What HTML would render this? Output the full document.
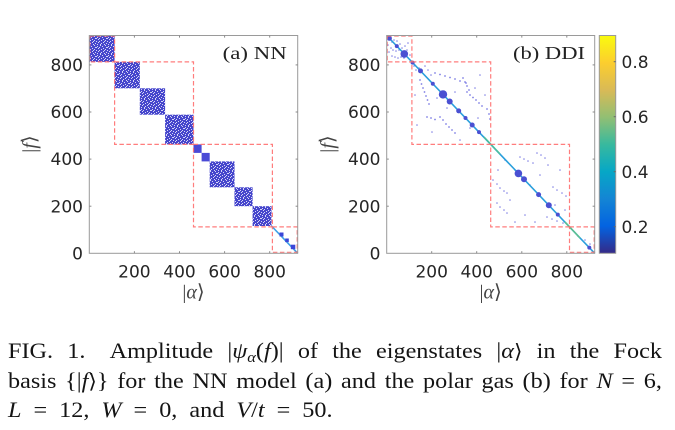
<!DOCTYPE html>
<html><head><meta charset="utf-8">
<style>
html,body{margin:0;padding:0;background:#fff;}
body{width:675px;height:430px;position:relative;overflow:hidden;}
svg{position:absolute;left:0;top:0;}
.cap{position:absolute;left:8px;top:336px;width:594.5px;font-family:"Liberation Serif","DejaVu Serif",serif;font-size:22px;line-height:29.5px;color:#141414;transform:scaleX(1.1);transform-origin:0 0;}
.j{text-align:justify;text-align-last:justify;height:29.5px;white-space:normal;}
.sub{font-size:0.68em;position:relative;top:0.3em;line-height:0;}
.br{font-family:"DejaVu Serif","DejaVu Sans",serif;font-size:0.9em;}
</style></head>
<body>
<svg width="675" height="330" viewBox="0 0 675 330" xmlns="http://www.w3.org/2000/svg">
<defs>
<pattern id="sp" width="11" height="9" patternUnits="userSpaceOnUse">
<rect width="11" height="9" fill="#4646cc"/>
<g fill="#d6d6f6">
<rect x="1" y="0" width="1" height="1"/><rect x="6" y="0" width="1" height="1"/><rect x="9" y="1" width="1" height="1"/>
<rect x="3" y="1" width="1" height="1"/><rect x="7" y="2" width="2" height="1"/>
<rect x="0" y="2" width="1" height="1"/><rect x="4" y="3" width="1" height="1"/>
<rect x="10" y="3" width="1" height="1"/><rect x="2" y="4" width="1" height="1"/>
<rect x="6" y="4" width="1" height="1"/><rect x="8" y="5" width="1" height="1"/>
<rect x="0" y="5" width="1" height="1"/><rect x="4" y="6" width="1" height="1"/>
<rect x="10" y="6" width="1" height="1"/><rect x="2" y="7" width="1" height="1"/>
<rect x="7" y="7" width="1" height="1"/><rect x="5" y="8" width="1" height="1"/>
<rect x="9" y="8" width="1" height="1"/><rect x="1" y="8" width="1" height="1"/>
<rect x="5" y="5" width="1" height="1"/>
</g>
</pattern>
<linearGradient id="par" x1="0" y1="1" x2="0" y2="0">
<stop offset="0" stop-color="#352a87"/>
<stop offset="0.125" stop-color="#0363e1"/>
<stop offset="0.25" stop-color="#1485d4"/>
<stop offset="0.375" stop-color="#06a7c6"/>
<stop offset="0.5" stop-color="#38b99e"/>
<stop offset="0.625" stop-color="#92bf73"/>
<stop offset="0.75" stop-color="#d9ba56"/>
<stop offset="0.875" stop-color="#fcce2e"/>
<stop offset="1" stop-color="#f9fb0e"/>
</linearGradient>
</defs>

<!-- ================= Panel (a) ================= -->
<g>
<rect x="89.3" y="35.5" width="208.4" height="217.8" fill="#fff"/>
<g fill="url(#sp)">
<rect x="89.3" y="35.5" width="25.3" height="26.4"/>
<rect x="114.6" y="61.9" width="25.2" height="26.4"/>
<rect x="139.8" y="88.3" width="25.3" height="26.4"/>
<rect x="165.1" y="114.7" width="28.4" height="29.7"/>
<rect x="209.7" y="161.4" width="24.8" height="25.9"/>
<rect x="234.5" y="187.3" width="18.1" height="18.9"/>
<rect x="252.6" y="206.2" width="18.9" height="19.8"/>
</g>
<g fill="#4a4ad6">
<rect x="193.5" y="144.4" width="8.1" height="8.5"/>
<rect x="201.6" y="152.9" width="8.1" height="8.5"/>
</g>
<line x1="271.5" y1="226" x2="297.7" y2="253.3" stroke="#3d9fe6" stroke-width="1.6"/>
<g fill="#3a46d8">
<rect x="279.5" y="232.5" width="4" height="4"/>
<rect x="285.2" y="238.5" width="3.6" height="3.6"/>
<rect x="290.8" y="244.7" width="4.5" height="4.5"/>
</g>
<g fill="none" stroke="#ff6f6f" stroke-width="1.2" stroke-dasharray="4.5 2.5" opacity="0.9">
<rect x="89.8" y="36" width="24.8" height="25.9"/>
<rect x="114.6" y="61.9" width="78.9" height="82.5"/>
<rect x="193.5" y="144.4" width="78.9" height="82.5"/>
<rect x="272.4" y="226.9" width="24.8" height="25.4"/>
</g>
<rect x="89.3" y="35.5" width="208.4" height="217.8" fill="none" stroke="#9a9a9a" stroke-width="1"/>
<g stroke="#8a8a8a" stroke-width="1">
<line x1="134.4" y1="253.3" x2="134.4" y2="251.2"/><line x1="179.5" y1="253.3" x2="179.5" y2="251.2"/>
<line x1="224.6" y1="253.3" x2="224.6" y2="251.2"/><line x1="269.7" y1="253.3" x2="269.7" y2="251.2"/>
<line x1="134.4" y1="35.5" x2="134.4" y2="37.6"/><line x1="179.5" y1="35.5" x2="179.5" y2="37.6"/>
<line x1="224.6" y1="35.5" x2="224.6" y2="37.6"/><line x1="269.7" y1="35.5" x2="269.7" y2="37.6"/>
<line x1="89.3" y1="206.2" x2="91.4" y2="206.2"/><line x1="89.3" y1="159.1" x2="91.4" y2="159.1"/>
<line x1="89.3" y1="112" x2="91.4" y2="112"/><line x1="89.3" y1="64.9" x2="91.4" y2="64.9"/>
<line x1="297.7" y1="206.2" x2="295.6" y2="206.2"/><line x1="297.7" y1="159.1" x2="295.6" y2="159.1"/>
<line x1="297.7" y1="112" x2="295.6" y2="112"/><line x1="297.7" y1="64.9" x2="295.6" y2="64.9"/>
</g>
<text x="222.7" y="59" font-family="Liberation Serif, DejaVu Serif, serif" font-size="18" fill="#222" textLength="64" lengthAdjust="spacingAndGlyphs">(a) NN</text>
<g font-family="DejaVu Sans, Liberation Sans, sans-serif" font-size="17" fill="#262626">
<g text-anchor="end">
<text x="83" y="71">800</text>
<text x="83" y="118.1">600</text>
<text x="83" y="165.2">400</text>
<text x="83" y="212.3">200</text>
<text x="83" y="259.4">0</text>
</g>
<g text-anchor="middle">
<text x="134.4" y="277.3">200</text>
<text x="179.5" y="277.3">400</text>
<text x="224.6" y="277.3">600</text>
<text x="269.7" y="277.3">800</text>
</g>
</g>
<text x="193.5" y="298.5" text-anchor="middle" font-family="Liberation Serif, DejaVu Serif, serif" font-size="20" fill="#444">|<tspan font-style="italic">α</tspan><tspan font-family="DejaVu Serif, DejaVu Sans, serif">⟩</tspan></text>
<text transform="translate(36,144) rotate(-90)" text-anchor="middle" font-family="Liberation Serif, DejaVu Serif, serif" font-size="20" fill="#444">|<tspan font-style="italic">f</tspan><tspan font-family="DejaVu Serif, DejaVu Sans, serif">⟩</tspan></text>
</g>

<!-- ================= Panel (b) ================= -->
<g>
<g fill="#5656dc" opacity="0.75">
<circle cx="392" cy="42" r="0.8"/><circle cx="394" cy="40" r="0.8"/><circle cx="397" cy="41" r="0.8"/><circle cx="400" cy="44" r="0.8"/>
<circle cx="391" cy="48" r="0.8"/><circle cx="393" cy="50" r="0.8"/><circle cx="396" cy="51" r="0.8"/><circle cx="399" cy="50" r="0.8"/>
<circle cx="388" cy="45" r="0.8"/><circle cx="402" cy="48" r="0.8"/><circle cx="405" cy="46" r="0.8"/><circle cx="407" cy="50" r="0.8"/>
<circle cx="392" cy="56" r="0.8"/><circle cx="395" cy="57" r="0.8"/><circle cx="398" cy="58" r="0.8"/><circle cx="401" cy="57" r="0.8"/>
<circle cx="408" cy="43" r="0.8"/><circle cx="410" cy="55" r="0.8"/><circle cx="389" cy="52" r="0.8"/><circle cx="404" cy="58" r="0.8"/>
<circle cx="435" cy="73" r="0.9"/><circle cx="440" cy="74.5" r="0.9"/><circle cx="445" cy="76" r="0.9"/><circle cx="450" cy="77.5" r="0.9"/>
<circle cx="455" cy="79" r="0.9"/><circle cx="460" cy="81" r="0.9"/><circle cx="466" cy="83" r="0.9"/>
<circle cx="463" cy="78" r="0.9"/><circle cx="465" cy="82" r="0.9"/><circle cx="467" cy="86" r="0.9"/><circle cx="469" cy="90" r="0.9"/>
<circle cx="467" cy="92" r="0.9"/><circle cx="470" cy="95" r="0.9"/><circle cx="473" cy="97.5" r="0.9"/><circle cx="476" cy="100" r="0.9"/>
<circle cx="479" cy="103" r="0.9"/><circle cx="482" cy="106" r="0.9"/>
<circle cx="420" cy="80" r="0.9"/><circle cx="421.5" cy="84" r="0.9"/><circle cx="423" cy="88" r="0.9"/><circle cx="424.5" cy="92" r="0.9"/>
<circle cx="426" cy="96" r="0.9"/><circle cx="427.5" cy="100" r="0.9"/><circle cx="429" cy="104" r="0.9"/>
<circle cx="427" cy="117" r="0.9"/><circle cx="431" cy="118" r="0.9"/><circle cx="435" cy="119.5" r="0.9"/>
<circle cx="440" cy="117" r="0.9"/><circle cx="443" cy="120" r="0.9"/><circle cx="446" cy="124" r="0.9"/><circle cx="449" cy="127" r="0.9"/>
<circle cx="452" cy="130" r="0.9"/><circle cx="455" cy="133" r="0.9"/>
<circle cx="487" cy="109" r="0.9"/><circle cx="489" cy="114" r="0.9"/><circle cx="490" cy="119" r="0.9"/>
<circle cx="414" cy="66" r="0.8"/><circle cx="416" cy="70" r="0.8"/><circle cx="419" cy="68" r="0.8"/><circle cx="425" cy="66" r="0.8"/>
<circle cx="428" cy="70" r="0.8"/><circle cx="431" cy="75" r="0.8"/>
<circle cx="415" cy="95" r="0.8"/><circle cx="417" cy="125" r="0.8"/><circle cx="432" cy="132" r="0.8"/><circle cx="460" cy="140" r="0.8"/>
<circle cx="475" cy="88" r="0.8"/><circle cx="480" cy="75" r="0.8"/><circle cx="485" cy="95" r="0.8"/><circle cx="447" cy="108" r="0.8"/>
<circle cx="437" cy="98" r="0.8"/><circle cx="470" cy="128" r="0.8"/><circle cx="478" cy="118" r="0.8"/><circle cx="455" cy="92" r="0.8"/>
<circle cx="493" cy="180" r="0.8"/><circle cx="497" cy="184" r="0.8"/><circle cx="500" cy="188" r="0.8"/><circle cx="504" cy="191" r="0.8"/><circle cx="507" cy="193" r="0.8"/>
<circle cx="520" cy="157" r="0.8"/><circle cx="524" cy="159" r="0.8"/><circle cx="528" cy="161" r="0.8"/><circle cx="533" cy="163" r="0.8"/>
<circle cx="537" cy="153" r="0.8"/><circle cx="541" cy="155" r="0.8"/><circle cx="545" cy="158" r="0.8"/>
<circle cx="497" cy="203" r="0.8"/><circle cx="500" cy="207" r="0.8"/><circle cx="504" cy="210" r="0.8"/><circle cx="507" cy="213" r="0.8"/>
<circle cx="553" cy="187" r="0.8"/><circle cx="557" cy="190" r="0.8"/><circle cx="562" cy="193" r="0.8"/><circle cx="566" cy="196" r="0.8"/>
<circle cx="547" cy="217" r="0.8"/><circle cx="552" cy="219" r="0.8"/><circle cx="557" cy="221" r="0.8"/><circle cx="563" cy="223" r="0.8"/>
<circle cx="510" cy="200" r="0.8"/><circle cx="515" cy="170" r="0.8"/><circle cx="530" cy="185" r="0.8"/><circle cx="540" cy="175" r="0.8"/>
<circle cx="548" cy="165" r="0.8"/><circle cx="560" cy="170" r="0.8"/><circle cx="505" cy="160" r="0.8"/><circle cx="525" cy="215" r="0.8"/>
<circle cx="535" cy="222" r="0.8"/><circle cx="515" cy="222" r="0.8"/><circle cx="555" cy="205" r="0.8"/><circle cx="565" cy="210" r="0.8"/>
<circle cx="498" cy="170" r="0.8"/><circle cx="578" cy="236" r="0.8"/><circle cx="585" cy="240" r="0.8"/><circle cx="590" cy="244" r="0.8"/>
</g>
<line x1="386.7" y1="35.5" x2="594.7" y2="253.3" stroke="#2a9fdc" stroke-width="1.6"/>
<line x1="484" y1="137" x2="500" y2="154" stroke="#4cbf9a" stroke-width="1.6"/>
<line x1="565" y1="222" x2="580" y2="238" stroke="#5cc090" stroke-width="1.6"/>
<g fill="#4a50d2">
<circle cx="389.4" cy="38.3" r="2.5"/><circle cx="396.8" cy="46.1" r="2"/><circle cx="404.3" cy="53.9" r="3.8"/>
<circle cx="412.6" cy="62.6" r="2"/><circle cx="420.5" cy="70.9" r="2.5"/><circle cx="432.8" cy="83.8" r="2"/>
<circle cx="443" cy="94.4" r="4.2"/><circle cx="449.7" cy="101.5" r="3"/><circle cx="458.7" cy="110.9" r="2.5"/>
<circle cx="465.5" cy="118" r="2"/><circle cx="472.2" cy="125" r="2.5"/><circle cx="479" cy="132.1" r="2"/>
<circle cx="518.4" cy="173.4" r="3.8"/><circle cx="524" cy="179.3" r="3"/><circle cx="538.6" cy="194.6" r="2.5"/>
<circle cx="548.8" cy="205.2" r="3"/><circle cx="557.8" cy="214.6" r="2"/><circle cx="589.3" cy="247.6" r="2"/>
</g>
<g fill="none" stroke="#ff6f6f" stroke-width="1.2" stroke-dasharray="4.5 2.5" opacity="0.9">
<rect x="387.2" y="36" width="24.7" height="25.9"/>
<rect x="411.9" y="61.9" width="78.8" height="82.5"/>
<rect x="490.7" y="144.4" width="78.8" height="82.5"/>
<rect x="569.5" y="226.9" width="24.7" height="25.4"/>
</g>
<rect x="386.7" y="35.5" width="208" height="217.8" fill="none" stroke="#9a9a9a" stroke-width="1"/>
<g stroke="#8a8a8a" stroke-width="1">
<line x1="431.7" y1="253.3" x2="431.7" y2="251.2"/><line x1="476.7" y1="253.3" x2="476.7" y2="251.2"/>
<line x1="521.8" y1="253.3" x2="521.8" y2="251.2"/><line x1="566.8" y1="253.3" x2="566.8" y2="251.2"/>
<line x1="431.7" y1="35.5" x2="431.7" y2="37.6"/><line x1="476.7" y1="35.5" x2="476.7" y2="37.6"/>
<line x1="521.8" y1="35.5" x2="521.8" y2="37.6"/><line x1="566.8" y1="35.5" x2="566.8" y2="37.6"/>
<line x1="386.7" y1="206.2" x2="388.8" y2="206.2"/><line x1="386.7" y1="159.1" x2="388.8" y2="159.1"/>
<line x1="386.7" y1="112" x2="388.8" y2="112"/><line x1="386.7" y1="64.9" x2="388.8" y2="64.9"/>
<line x1="594.7" y1="206.2" x2="592.6" y2="206.2"/><line x1="594.7" y1="159.1" x2="592.6" y2="159.1"/>
<line x1="594.7" y1="112" x2="592.6" y2="112"/><line x1="594.7" y1="64.9" x2="592.6" y2="64.9"/>
</g>
<text x="513" y="59" font-family="Liberation Serif, DejaVu Serif, serif" font-size="18" fill="#222" textLength="72" lengthAdjust="spacingAndGlyphs">(b) DDI</text>
<g font-family="DejaVu Sans, Liberation Sans, sans-serif" font-size="17" fill="#262626">
<g text-anchor="end">
<text x="380.5" y="71">800</text>
<text x="380.5" y="118.1">600</text>
<text x="380.5" y="165.2">400</text>
<text x="380.5" y="212.3">200</text>
<text x="380.5" y="259.4">0</text>
</g>
<g text-anchor="middle">
<text x="431.7" y="277.3">200</text>
<text x="476.7" y="277.3">400</text>
<text x="521.8" y="277.3">600</text>
<text x="566.8" y="277.3">800</text>
</g>
</g>
<text x="490.7" y="298.5" text-anchor="middle" font-family="Liberation Serif, DejaVu Serif, serif" font-size="20" fill="#444">|<tspan font-style="italic">α</tspan><tspan font-family="DejaVu Serif, DejaVu Sans, serif">⟩</tspan></text>
<text transform="translate(334,144) rotate(-90)" text-anchor="middle" font-family="Liberation Serif, DejaVu Serif, serif" font-size="20" fill="#444">|<tspan font-style="italic">f</tspan><tspan font-family="DejaVu Serif, DejaVu Sans, serif">⟩</tspan></text>
</g>

<!-- ================= Colorbar ================= -->
<rect x="599.3" y="35.5" width="16.4" height="217.8" fill="url(#par)" stroke="#9a9a9a" stroke-width="1"/>
<g stroke="#666" stroke-width="1">
<line x1="615.7" y1="61.7" x2="613.7" y2="61.7"/><line x1="615.7" y1="116.7" x2="613.7" y2="116.7"/>
<line x1="615.7" y1="171.7" x2="613.7" y2="171.7"/><line x1="615.7" y1="226.7" x2="613.7" y2="226.7"/>
</g>
<g font-family="DejaVu Sans, Liberation Sans, sans-serif" font-size="17" fill="#262626">
<text x="621.5" y="67.8">0.8</text>
<text x="621.5" y="122.8">0.6</text>
<text x="621.5" y="177.8">0.4</text>
<text x="621.5" y="232.8">0.2</text>
</g>
</svg>

<div class="cap">
<div class="j">FIG. 1.&emsp;Amplitude |<i>ψ</i><span class="sub"><i>α</i></span>(<i>f</i>)| of the eigenstates |<i>α</i><span class="br">⟩</span> in the Fock</div>
<div class="j">basis {|<i>f</i><span class="br">⟩</span>} for the NN model (a) and the polar gas (b) for <i>N</i> = 6,</div>
<div><span style="display:inline-block;width:295px;text-align:justify;text-align-last:justify;"><i>L</i> = 12, <i>W</i> = 0, and <i>V</i>/<i>t</i> = 50.</span></div>
</div>
</body></html>
